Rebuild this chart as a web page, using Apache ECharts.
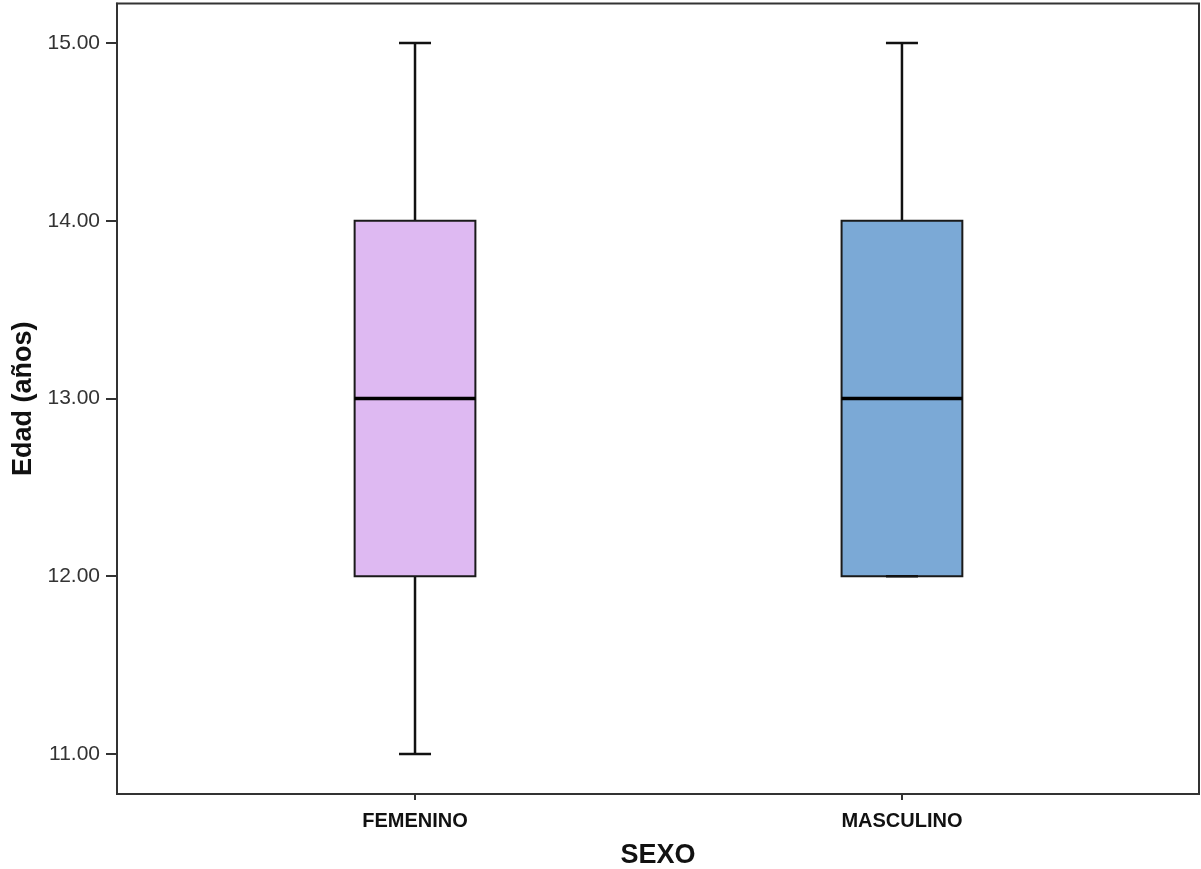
<!DOCTYPE html>
<html>
<head>
<meta charset="utf-8">
<script src="https://cdn.jsdelivr.net/npm/echarts@6/dist/echarts.min.js"></script>
<style>
html,body{margin:0;padding:0;background:#fff;}
#chart{width:1201px;height:869px;}
</style>
</head>
<body>
<div id="chart"></div>
<script>
const categories = ['FEMENINO', 'MASCULINO'];
const whiskerLow = [11, 12];
const quartile1 = [12, 12];
const medians = [13, 13];
const quartile3 = [14, 14];
const whiskerHigh = [15, 15];
const yTicks = [11, 12, 13, 14, 15];
const boxColors = ['#DEB9F2', '#7BA9D6'];

const data = categories.map((c, i) => [i, whiskerLow[i], quartile1[i], medians[i], quartile3[i], whiskerHigh[i]]);

const chart = echarts.init(document.getElementById('chart'));
const FONT = '"Liberation Sans", Arial, sans-serif';

function renderItem(params, api) {
  const x = api.value(0);
  const idx = params.dataIndex;
  const lo = api.coord([x, api.value(1)]);
  const q1 = api.coord([x, api.value(2)]);
  const med = api.coord([x, api.value(3)]);
  const q3 = api.coord([x, api.value(4)]);
  const hi = api.coord([x, api.value(5)]);
  const unitPx = api.size([1, 0])[0];
  const halfBox = unitPx * 0.124;
  const halfCap = 16;
  const cx = lo[0];
  const stroke = '#111';
  return {
    type: 'group',
    children: [
      {type: 'line', shape: {x1: cx, y1: q3[1], x2: cx, y2: hi[1]}, style: {stroke: stroke, lineWidth: 2.5}},
      {type: 'line', shape: {x1: cx, y1: q1[1], x2: cx, y2: lo[1]}, style: {stroke: stroke, lineWidth: 2.5}},
      {type: 'rect', shape: {x: cx - halfBox, y: q3[1], width: halfBox * 2, height: q1[1] - q3[1]},
        style: {fill: boxColors[idx], stroke: '#1a1a1a', lineWidth: 2}},
      {type: 'line', shape: {x1: cx - halfBox, y1: med[1], x2: cx + halfBox, y2: med[1]}, style: {stroke: '#000', lineWidth: 3.5}},
      {type: 'line', shape: {x1: cx - halfCap, y1: hi[1], x2: cx + halfCap, y2: hi[1]}, style: {stroke: stroke, lineWidth: 2.5}},
      {type: 'line', shape: {x1: cx - halfCap, y1: lo[1], x2: cx + halfCap, y2: lo[1]}, style: {stroke: stroke, lineWidth: 2.5}}
    ]
  };
}

chart.setOption({
  animation: false,
  backgroundColor: '#fff',
  grid: {left: 117, right: 2, top: 3.5, bottom: 75, containLabel: false, outerBoundsMode: 'none',
    show: true, borderColor: '#333', borderWidth: 2, backgroundColor: 'transparent'},
  xAxis: {
    type: 'value',
    min: -0.612,
    max: 1.610,
    splitLine: {show: false},
    axisLine: {show: true, onZero: false, lineStyle: {color: '#333', width: 2}},
    axisTick: {show: true, length: 6, inside: false, customValues: [0, 1], lineStyle: {color: '#333', width: 2}},
    axisLabel: {
      customValues: [0, 1],
      formatter: v => categories[Math.round(v)] || '',
      margin: 17,
      fontFamily: FONT, fontWeight: 'bold', fontSize: 20, color: '#111'
    },
    name: 'SEXO',
    nameLocation: 'middle',
    nameGap: 48,
    nameTextStyle: {fontFamily: FONT, fontWeight: 'bold', fontSize: 27, color: '#111'}
  },
  yAxis: {
    type: 'value',
    min: 10.775,
    max: 15.222,
    splitLine: {show: false},
    axisLine: {show: true, onZero: false, lineStyle: {color: '#333', width: 2}},
    axisTick: {show: true, length: 11, inside: false, customValues: yTicks, lineStyle: {color: '#333', width: 2}},
    axisLabel: {
      customValues: yTicks,
      formatter: v => v.toFixed(2),
      margin: 17,
      fontFamily: FONT, fontSize: 21, color: '#333'
    },
    name: 'Edad (años)',
    nameLocation: 'middle',
    nameGap: 72,
    nameTextStyle: {fontFamily: FONT, fontWeight: 'bold', fontSize: 27, color: '#111'}
  },
  series: [{
    type: 'custom',
    renderItem: renderItem,
    encode: {x: 0, y: [1, 2, 3, 4, 5]},
    data: data
  }]
});
</script>
</body>
</html>
